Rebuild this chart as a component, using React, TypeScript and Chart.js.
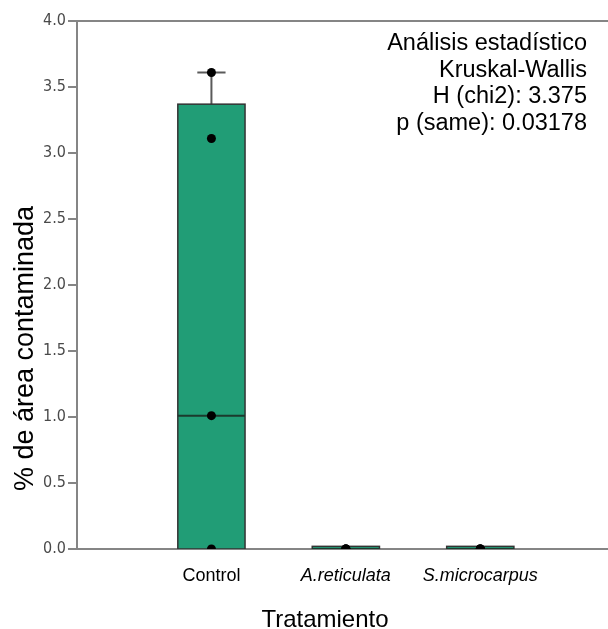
import { useEffect, useRef } from "react";
import { Chart, registerables } from "chart.js";

Chart.register(...registerables);

// Treatments and their box-plot summaries (% of contaminated area)
const categories = ["Control", "A.reticulata", "S.microcarpus"];
const italicLabel = [false, true, true];
const q1 = [0, 0, 0];
const median = [1.01, 0, 0];
const q3 = [3.37, 0.02, 0.02];
const whiskerLow = [0, 0, 0];
const whiskerHigh = [3.61, 0.02, 0.02];
// Individual observations per treatment
const observations = [
  [0, 1.01, 3.11, 3.61],
  [0, 0, 0, 0],
  [0, 0, 0, 0],
];
const statsLines = [
  "Análisis estadístico",
  "Kruskal-Wallis",
  "H (chi2): 3.375",
  "p (same): 0.03178",
];
const yTitle = "% de área contaminada";
const xTitle = "Tratamiento";

const SANS = "'Liberation Sans', Arial, sans-serif";
const BOX_WIDTH = 0.5;
const CAP_WIDTH = 0.21;
const AXIS_GRAY = "#858585";

const boxPlugin = {
  id: "boxes",
  beforeDatasetsDraw(chart: any) {
    const { ctx, chartArea, scales } = chart;
    const x = scales.x;
    const y = scales.y;
    ctx.save();
    ctx.beginPath();
    ctx.rect(chartArea.left, chartArea.top, chartArea.width, chartArea.height);
    ctx.clip();
    categories.forEach((_, i) => {
      const c = i + 1;
      const cx = x.getPixelForValue(c);
      const left = x.getPixelForValue(c - BOX_WIDTH / 2);
      const right = x.getPixelForValue(c + BOX_WIDTH / 2);
      const capL = x.getPixelForValue(c - CAP_WIDTH / 2);
      const capR = x.getPixelForValue(c + CAP_WIDTH / 2);
      const yq1 = y.getPixelForValue(q1[i]);
      const yq3 = y.getPixelForValue(q3[i]);
      const ymed = y.getPixelForValue(median[i]);

      // whiskers
      ctx.strokeStyle = "#5a5a5a";
      ctx.lineWidth = 2;
      if (whiskerHigh[i] > q3[i]) {
        const yh = y.getPixelForValue(whiskerHigh[i]);
        ctx.beginPath();
        ctx.moveTo(cx, yq3);
        ctx.lineTo(cx, yh);
        ctx.moveTo(capL, yh);
        ctx.lineTo(capR, yh);
        ctx.stroke();
      }
      if (whiskerLow[i] < q1[i]) {
        const yl = y.getPixelForValue(whiskerLow[i]);
        ctx.beginPath();
        ctx.moveTo(cx, yq1);
        ctx.lineTo(cx, yl);
        ctx.moveTo(capL, yl);
        ctx.lineTo(capR, yl);
        ctx.stroke();
      }

      // box
      ctx.fillStyle = "#219d76";
      ctx.fillRect(left, yq3, right - left, yq1 - yq3);
      ctx.strokeStyle = "#333";
      ctx.lineWidth = 1.5;
      ctx.strokeRect(left, yq3, right - left, yq1 - yq3);

      // median
      ctx.strokeStyle = "#1b3a2d";
      ctx.lineWidth = 2;
      ctx.beginPath();
      ctx.moveTo(left, ymed);
      ctx.lineTo(right, ymed);
      ctx.stroke();
    });
    ctx.restore();
  },
  afterDraw(chart: any) {
    const { ctx, chartArea } = chart;
    ctx.save();
    // top frame line
    ctx.strokeStyle = AXIS_GRAY;
    ctx.lineWidth = 2;
    ctx.beginPath();
    ctx.moveTo(chartArea.left, chartArea.top);
    ctx.lineTo(chartArea.right, chartArea.top);
    ctx.stroke();

    // statistics box
    ctx.fillStyle = "#000";
    ctx.font = `23.5px ${SANS}`;
    ctx.textAlign = "right";
    ctx.textBaseline = "alphabetic";
    statsLines.forEach((line, i) => {
      ctx.fillText(line, chartArea.right - 21, chartArea.top + 29 + i * 26.5);
    });

    // axis titles
    ctx.textAlign = "center";
    ctx.textBaseline = "alphabetic";
    ctx.font = `24px ${SANS}`;
    ctx.fillText(xTitle, 325, 627);

    ctx.font = `27px ${SANS}`;
    ctx.translate(33, 348.5);
    ctx.rotate(-Math.PI / 2);
    ctx.fillText(yTitle, 0, 0);
    ctx.restore();
  },
};

export default function App() {
  const canvasRef = useRef<HTMLCanvasElement | null>(null);

  useEffect(() => {
    if (!canvasRef.current) return;
    const points = observations.flatMap((vals, i) =>
      vals.map((v) => ({ x: i + 1, y: v }))
    );
    const chart = new Chart(canvasRef.current, {
      type: "scatter",
      data: {
        datasets: [
          {
            data: points,
            pointRadius: 4.5,
            pointHoverRadius: 4.5,
            backgroundColor: "#000",
            borderWidth: 0,
            clip: 0,
          } as any,
        ],
      },
      options: {
        animation: false,
        responsive: false,
        devicePixelRatio: 1,
        layout: {
          autoPadding: false,
          padding: { top: 21, right: 0, left: 0, bottom: 0 },
        },
        plugins: {
          legend: { display: false },
          tooltip: { enabled: false },
        },
        scales: {
          x: {
            type: "linear",
            min: 0,
            max: 3.95,
            afterBuildTicks: (scale: any) => {
              scale.ticks = categories.map((_, i) => ({ value: i + 1 }));
            },
            afterFit: (scale: any) => {
              scale.height = 80;
            },
            ticks: {
              autoSkip: false,
              maxRotation: 0,
              padding: 16,
              color: "#000",
              callback: (v: any) => categories[Number(v) - 1] ?? "",
              font: (ctx: any) => ({
                family: SANS,
                size: 18,
                style: italicLabel[ctx.index] ? "italic" : "normal",
              }),
            },
            grid: { display: true, drawOnChartArea: false, drawTicks: false },
            border: { display: true, color: AXIS_GRAY, width: 2 },
          },
          y: {
            min: 0,
            max: 4,
            afterFit: (scale: any) => {
              scale.width = 77;
            },
            ticks: {
              stepSize: 0.5,
              padding: 2,
              color: "#4a4a4a",
              font: { family: "'DejaVu Sans Condensed', 'DejaVu Sans', sans-serif", size: 16 },
              callback: (v: any) => Number(v).toFixed(1),
            },
            grid: {
              display: true,
              drawOnChartArea: false,
              drawTicks: true,
              tickLength: 9,
              color: AXIS_GRAY,
              lineWidth: 2,
            },
            border: { display: true, color: AXIS_GRAY, width: 2 },
          },
        },
      },
      plugins: [boxPlugin],
    });
    return () => chart.destroy();
  }, []);

  return (
    <div
      style={{
        position: "absolute",
        left: 0,
        top: 0,
        width: 608,
        height: 629,
        background: "#fff",
      }}
    >
      <canvas ref={canvasRef} width={608} height={629} />
    </div>
  );
}
